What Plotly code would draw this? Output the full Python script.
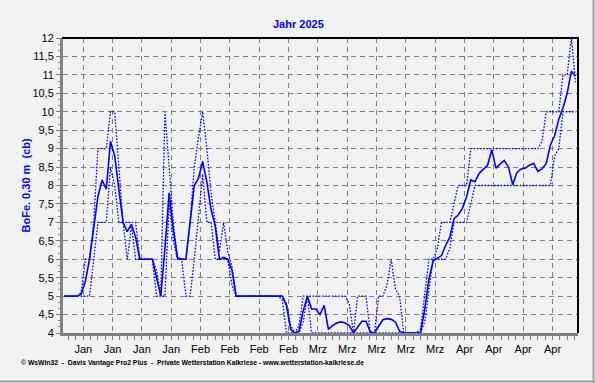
import pandas as pd
import plotly.graph_objects as go

start_day = "2025-01-01 12:00"

avg_vals = [
    5.0, 5.0, 5.0, 5.0, 5.05, 5.4, 6.0, 6.8, 7.7, 8.15,
    7.9, 9.2, 8.8, 7.9, 7.0, 6.75, 6.95, 6.6, 6.0, 6.0,
    6.0, 6.0, 5.5, 5.0, 6.3, 7.8, 6.8, 6.05, 6.0, 6.0,
    7.0, 8.0, 8.2, 8.65, 8.1, 7.35, 6.9, 6.0, 6.05, 6.0,
    5.7, 5.0, 5.0, 5.0, 5.0, 5.0, 5.0, 5.0, 5.0, 5.0,
    5.0, 5.0, 5.0, 4.75, 4.1, 4.0, 4.05, 4.6, 5.0, 4.65,
    4.65, 4.5, 4.75, 4.1, 4.2, 4.27, 4.3, 4.27, 4.2, 4.0,
    4.15, 4.32, 4.32, 4.03, 4.0, 4.2, 4.36, 4.39, 4.37, 4.3,
    4.05, 4.0, 4.0, 4.0, 4.0, 4.0, 4.65, 5.45, 5.95, 6.02,
    6.1, 6.38, 6.6, 7.1, 7.2, 7.38, 7.7, 8.15, 8.1, 8.33,
    8.43, 8.55, 8.97, 8.47, 8.58, 8.68, 8.5, 8.02, 8.35, 8.45,
    8.47, 8.55, 8.6, 8.38, 8.45, 8.6, 9.1, 9.35, 9.8, 10.1,
    10.5, 11.1, 10.97,
]

max_vals = [
    5.0, 5.0, 5.0, 5.0, 5.1, 6.0, 6.0, 7.0, 9.0, 9.0,
    9.0, 10.0, 10.0, 8.5, 7.0, 7.0, 7.0, 7.0, 6.0, 6.0,
    6.0, 6.0, 5.7, 5.0, 10.0, 8.5, 7.0, 6.0, 6.0, 6.0,
    7.0, 8.5, 9.3, 10.0, 9.0, 7.8, 7.0, 6.2, 7.0, 6.2,
    5.8, 5.0, 5.0, 5.0, 5.0, 5.0, 5.0, 5.0, 5.0, 5.0,
    5.0, 5.0, 5.0, 4.8, 4.2, 4.0, 4.2, 5.0, 5.0, 5.0,
    5.0, 5.0, 5.0, 5.0, 5.0, 5.0, 5.0, 5.0, 4.8, 4.0,
    5.0, 5.0, 5.0, 4.0, 4.0, 5.0, 5.0, 5.3, 6.0, 5.2,
    5.0, 4.0, 4.0, 4.0, 4.0, 4.1, 5.0, 6.0, 6.0, 6.3,
    7.0, 7.0, 7.0, 7.5, 8.0, 8.0, 8.0, 9.0, 9.0, 9.0,
    9.0, 9.0, 9.0, 9.0, 9.0, 9.0, 9.0, 9.0, 9.0, 9.0,
    9.0, 9.0, 9.0, 9.0, 9.2, 10.0, 10.0, 10.0, 10.0, 11.0,
    11.0, 12.0, 10.8,
]

min_vals = [
    5.0, 5.0, 5.0, 5.0, 5.0, 5.0, 5.0, 6.0, 7.0, 7.0,
    7.0, 8.5, 8.0, 7.0, 7.0, 6.0, 6.9, 6.0, 6.0, 6.0,
    6.0, 6.0, 5.0, 5.0, 5.0, 7.5, 6.5, 6.0, 6.0, 5.0,
    5.0, 6.0, 7.2, 8.3, 7.0, 7.0, 6.0, 6.0, 6.0, 6.0,
    5.3, 5.0, 5.0, 5.0, 5.0, 5.0, 5.0, 5.0, 5.0, 5.0,
    5.0, 5.0, 4.9, 4.0, 4.0, 4.0, 4.0, 4.3, 5.0, 4.0,
    4.0, 4.0, 4.0, 4.0, 4.0, 4.0, 4.0, 4.0, 4.0, 4.0,
    4.0, 4.0, 4.0, 4.0, 4.0, 4.0, 4.0, 4.0, 4.0, 4.0,
    4.0, 4.0, 4.0, 4.0, 4.0, 4.0, 4.3, 5.2, 6.0, 6.0,
    6.0, 6.0, 6.3, 7.0, 7.0, 7.0, 7.0, 7.5, 8.0, 8.0,
    8.0, 8.0, 8.0, 8.0, 8.0, 8.0, 8.0, 8.0, 8.0, 8.0,
    8.0, 8.0, 8.0, 8.0, 8.0, 8.0, 8.0, 8.8, 9.0, 10.0,
    10.0, 10.0, 10.0,
]

tick_dates = [
    "2025-01-06", "2025-01-13", "2025-01-20", "2025-01-27",
    "2025-02-03", "2025-02-10", "2025-02-17", "2025-02-24",
    "2025-03-03", "2025-03-10", "2025-03-17", "2025-03-24", "2025-03-31",
    "2025-04-07", "2025-04-14", "2025-04-21", "2025-04-28",
]
tick_labels = [
    "Jan", "Jan", "Jan", "Jan",
    "Feb", "Feb", "Feb", "Feb",
    "Mrz", "Mrz", "Mrz", "Mrz", "Mrz",
    "Apr", "Apr", "Apr", "Apr",
]

dates = pd.date_range(start_day, periods=len(avg_vals), freq="D")

BLUE = "#0000FF"
DOT = dict(color=BLUE, width=1.3, dash="1.6px,1.6px")
fig = go.Figure()
fig.add_trace(go.Scatter(x=dates, y=max_vals, mode="lines", line=DOT,
                         hoverinfo="skip", showlegend=False))
fig.add_trace(go.Scatter(x=dates, y=min_vals, mode="lines", line=DOT,
                         hoverinfo="skip", showlegend=False))
fig.add_trace(go.Scatter(x=dates, y=avg_vals, mode="lines",
                         line=dict(color=BLUE, width=1.6),
                         showlegend=False))

L, R, T, B = 63, 578, 38, 333
W, H = 595, 383
PW, PH = R - L, B - T


def px(xp):
    return (xp - L) / PW


def py(yp):
    return (B - yp) / PH


FONT = "Liberation Sans, Arial, sans-serif"

fig.update_layout(
    width=W, height=H,
    margin=dict(l=L, r=W - R, t=T, b=H - B, pad=0),
    paper_bgcolor="#F2F2F2",
    plot_bgcolor="#F2F2F2",
    separators=",.",
    font=dict(family=FONT, size=11, color="#000000"),
    showlegend=False,
)

fig.update_xaxes(
    type="date",
    range=["2025-01-01 04:00", "2025-05-04 02:00"],
    tickmode="array", tickvals=tick_dates, ticktext=tick_labels,
    showgrid=True, gridcolor="#808080", gridwidth=1, griddash="5px,4px",
    showline=True, linecolor="#808080", linewidth=3,
    ticks="outside", ticklen=4, tickcolor="#808080", tickwidth=1,
    tickfont=dict(family=FONT, size=11, color="#000000"),
    minor=dict(tick0="2025-01-06", dtick=1.75 * 86400000, ticks="outside",
               ticklen=4, tickcolor="#808080", showgrid=False),
    zeroline=False, fixedrange=True,
)
fig.update_yaxes(
    range=[4, 12], dtick=0.5, tick0=4,
    showgrid=True, gridcolor="#808080", gridwidth=1, griddash="5px,4px",
    showline=True, linecolor="#808080", linewidth=3,
    ticks="outside", ticklen=4, tickcolor="#808080", tickwidth=1,
    tickfont=dict(family=FONT, size=11, color="#000000"),
    minor=dict(dtick=0.5 / 3, ticks="outside", ticklen=2,
               tickcolor="#808080", showgrid=False),
    zeroline=False, fixedrange=True,
)

shapes = [
    dict(type="line", xref="paper", yref="paper", x0=px(L - 1), x1=px(R + 1),
         y0=1, y1=1, line=dict(color="#000000", width=2)),
    dict(type="line", xref="paper", yref="paper", x0=1, x1=1,
         y0=py(B), y1=py(T - 1), line=dict(color="#000000", width=2)),
    dict(type="line", xref="paper", yref="paper", x0=px(593.5), x1=px(593.5),
         y0=py(383), y1=py(0), line=dict(color="#A0A0A0", width=2)),
    dict(type="line", xref="paper", yref="paper", x0=px(0), x1=px(595),
         y0=py(381.5), y1=py(381.5), line=dict(color="#A0A0A0", width=2)),
]

annotations = [
    dict(text="<b>Jahr 2025</b>", xref="paper", yref="paper",
         x=px(298), y=py(24), xanchor="center", yanchor="middle",
         showarrow=False, font=dict(family=FONT, size=11, color=BLUE)),
    dict(text="<b>BoFe. 0,30 m  (cb)</b>", xref="paper", yref="paper",
         x=px(25), y=py(185.5), xanchor="center", yanchor="middle",
         textangle=-90, showarrow=False,
         font=dict(family=FONT, size=11, color=BLUE)),
    dict(text="<b>© WsWin32  -  Davis Vantage Pro2 Plus  -  Private Wetterstation Kalkriese - www.wetterstation-kalkriese.de</b>",
         xref="paper", yref="paper", x=px(19), y=py(363),
         xanchor="left", yanchor="middle", showarrow=False,
         font=dict(family=FONT, size=6.8, color="#000000")),
]

fig.update_layout(shapes=shapes, annotations=annotations)

fig.write_html(
    "out.html",
    config={"displayModeBar": False, "staticPlot": True},
    post_script="document.body.style.margin='0';document.body.style.overflow='hidden';",
)
